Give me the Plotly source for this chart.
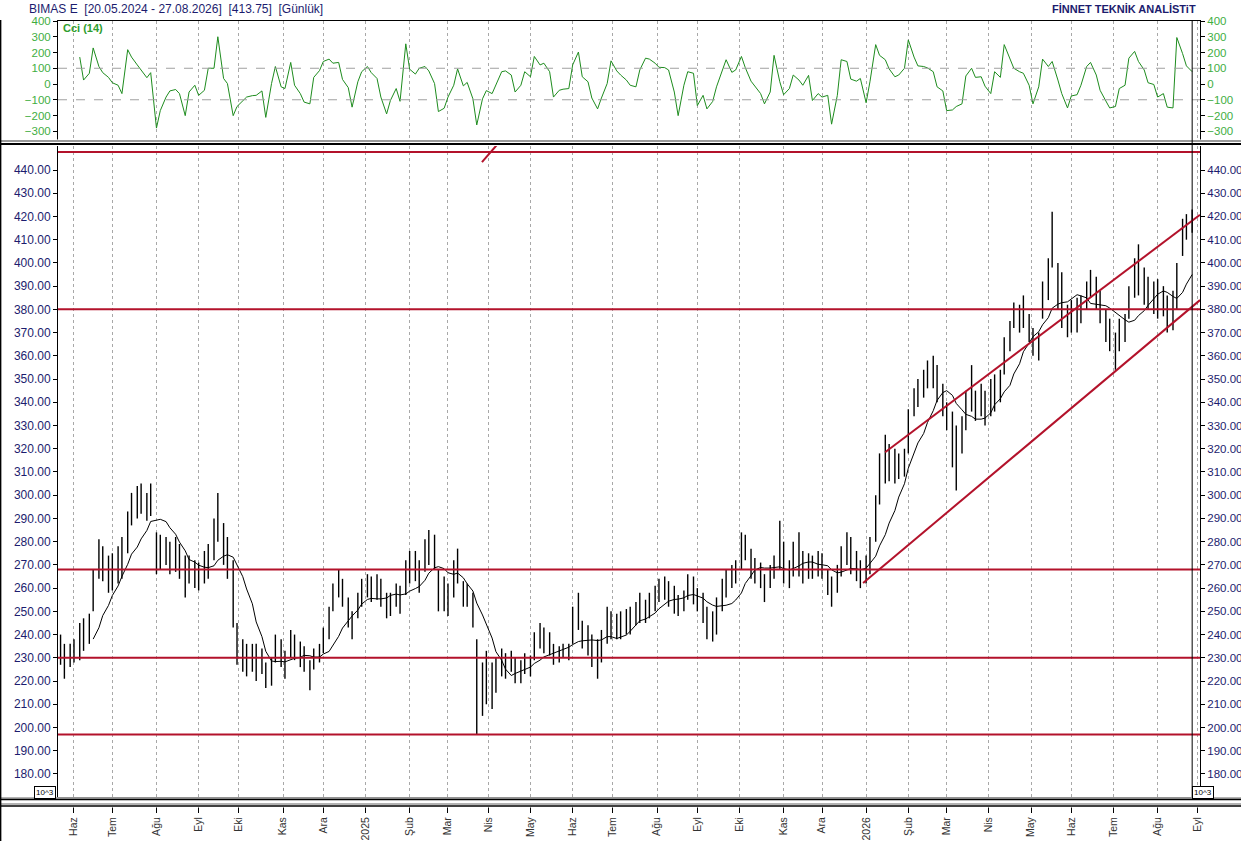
import numpy as np
import pandas as pd
import plotly.graph_objects as go

# half-week bars (Thursday / Monday), 23.05.2024 - 27.08.2026
thu = pd.date_range('2024-05-23', periods=119, freq='7D')
mon = pd.date_range('2024-05-27', periods=118, freq='7D')
DATES = sorted(list(thu) + list(mon))

LOW = [227, 221, 226, 228, 229, 233, 236, 250, 264, 263, 258, 259, 262, 264, 275, 287, 290, 292, 289, 291,
       266, 268, 270, 266, 267, 264, 256, 262, 260, 259, 262, 264, 272, 280, 270, 264, 243, 227, 224, 222,
       224, 220, 223, 217, 218, 228, 226, 221, 230, 229, 226, 224, 216, 225, 228, 232, 238, 250, 256, 252,
       243, 238, 247, 252, 256, 254, 255, 252, 247, 248, 252, 249, 257, 262, 263, 258, 267, 270, 268, 250,
       250, 248, 256, 262, 252, 252, 243, 197, 205, 210, 208, 215, 222, 221, 224, 219, 219, 223, 222, 229,
       234, 232, 231, 227, 228, 230, 229, 236, 242, 234, 231, 226, 221, 228, 236, 238, 238, 238, 240, 240,
       244, 245, 245, 247, 250, 254, 255, 252, 249, 248, 250, 255, 253, 250, 245, 238, 237, 240, 250, 256,
       260, 262, 268, 272, 264, 262, 260, 254, 260, 264, 268, 262, 260, 265, 265, 262, 264, 264, 265, 264,
       257, 252, 258, 265, 270, 266, 263, 260, 262, 266, 280, 296, 305, 306, 305, 307, 308, 318, 334, 338,
       342, 346, 346, 340, 334, 328, 312, 302, 318, 328, 336, 332, 334, 330, 334, 336, 340, 352, 362, 372,
       370, 372, 366, 360, 358, 376, 384, 398, 380, 372, 368, 370, 370, 374, 380, 385, 380, 374, 366, 362,
       354, 362, 366, 376, 385, 386, 382, 380, 378, 376, 377, 370, 371, 380, 403, 410, 413]

HIGH = [240, 236, 236, 238, 245, 247, 249, 268, 281, 278, 274, 275, 278, 282, 293, 301, 304, 305, 301, 305,
        284, 283, 282, 280, 282, 279, 274, 274, 272, 271, 276, 279, 290, 301, 288, 282, 272, 245, 238, 236,
        236, 236, 234, 228, 230, 240, 238, 233, 242, 240, 237, 235, 229, 234, 236, 243, 252, 262, 268, 264,
        256, 250, 258, 264, 266, 265, 266, 264, 258, 258, 262, 261, 272, 276, 276, 272, 281, 285, 283, 268,
        265, 262, 272, 277, 263, 262, 258, 238, 228, 233, 228, 230, 234, 232, 233, 230, 229, 232, 231, 241,
        245, 243, 241, 236, 235, 236, 236, 252, 258, 246, 244, 240, 238, 242, 252, 250, 249, 250, 251, 252,
        254, 258, 255, 258, 261, 264, 265, 263, 261, 257, 259, 266, 265, 260, 258, 252, 250, 256, 264, 268,
        270, 272, 284, 283, 277, 273, 271, 266, 270, 274, 289, 280, 272, 280, 284, 276, 275, 274, 276, 275,
        268, 265, 270, 278, 284, 282, 276, 272, 274, 282, 300, 318, 326, 322, 320, 318, 320, 337, 346, 350,
        354, 358, 360, 356, 348, 340, 336, 330, 334, 345, 356, 345, 348, 345, 350, 352, 354, 368, 375, 383,
        382, 386, 378, 372, 370, 392, 402, 422, 400, 396, 382, 384, 385, 386, 392, 397, 394, 388, 380, 376,
        370, 376, 378, 390, 402, 408, 398, 394, 392, 393, 390, 386, 388, 400, 419, 421, 423]

CCI = [None, None, None, None, 171, 25, 68, 229, 111, 72, 42, 8, -8, -61, 218, 171, 121, 89, 40, 72,
       -280, -169, -83, -44, -35, -61, -201, -51, -8, -72, -40, 100, 100, 300, 35, 3, -201, -143, -104, -83,
       -74, -72, -44, -212, 3, 111, -18, -29, 137, -8, -61, -115, -126, 42, 85, 143, 158, 132, 137, 29,
       -23, -147, 14, 78, 111, 72, 35, -83, -190, -104, -29, -110, 255, 94, 63, 100, 111, 83, 3, -175,
       -154, -83, -8, 96, -12, 10, -94, -260, -94, -42, -61, -8, 78, 83, 57, -51, -8, 78, 46, 175,
       121, 132, 78, -83, -40, -33, -29, 121, 203, 46, 14, -89, -158, -89, 3, 147, 83, 57, 25, -8,
       -18, 89, 164, 158, 132, 106, 104, 89, -51, -201, -8, 78, 68, -137, -72, -158, -111, -18, 78, 154,
       74, 89, 175, 104, 18, -14, -61, -126, -51, 182, 14, -68, -29, 57, 25, -8, 55, -105, -61, -83,
       -72, -255, -72, 154, 143, 31, 18, 35, -119, 14, 250, 182, 154, 96, 46, 57, 100, 280, 171, 115,
       111, 102, 78, -18, -44, -169, -165, -143, -126, 51, 100, 42, 46, -14, -61, 78, 42, 250, 154, 100,
       78, 68, -8, -126, -18, 158, 111, 143, 25, -61, -152, -76, -68, -8, 111, 137, 57, -40, -108, -152,
       -143, -29, -8, 164, 207, 143, 89, 8, -3, -83, -61, -147, -152, 295, 193, 115, 78]

# support / resistance levels and channel
LEVELS = [447.7, 380, 268, 230, 197]
CH_UP_DATES = ['2026-01-14 22:00', '2026-09-02 02:00']
CH_UP = [318.5, 420.7]
CH_LO_DATES = ['2025-12-30 10:00', '2026-09-02 02:00']
CH_LO = [262.2, 384.0]
SEG_DATES = ['2025-03-26 17:00', '2025-04-07 12:00']
SEG = [443.4, 450.8]

TICK_TEXT = ['Haz', 'Tem', 'Ağu', 'Eyl', 'Eki', 'Kas', 'Ara', '2025', 'Şub', 'Mar', 'Nis', 'May', 'Haz', 'Tem',
             'Ağu', 'Eyl', 'Eki', 'Kas', 'Ara', '2026', 'Şub', 'Mar', 'Nis', 'May', 'Haz', 'Tem', 'Ağu', 'Eyl']
TICK_VALS = list(pd.date_range('2024-06-01', '2026-09-01', freq='BMS'))

X_RANGE = ['2024-05-21 16:00', '2026-09-02 02:00']
P_RANGE = [170.08, 450.33]
C_RANGE = [-355.6, 400]

W, H = 1241, 841
FONT = 'Liberation Sans, Arial, sans-serif'
NAVY = '#1c1c6e'
GREEN_TXT = '#3fae3f'
RED = '#b3122b'


def px(v):
    return v / W


def py(v):
    return 1 - v / H


# bars as vertical low-high segments
bx, by = [], []
for d, lo, hi in zip(DATES, LOW, HIGH):
    bx += [d, d, None]
    by += [lo, hi, None]

mid = (np.array(HIGH) + np.array(LOW)) / 2
ma = pd.Series(mid).rolling(8).mean()

lx, ly = [], []
for lv in LEVELS:
    lx += [X_RANGE[0], X_RANGE[1], None]
    ly += [lv, lv, None]

fig = go.Figure()
fig.add_trace(go.Scatter(x=bx, y=by, mode='lines', line=dict(color='black', width=1.4),
                         xaxis='x', yaxis='y', hoverinfo='skip'))
fig.add_trace(go.Scatter(x=DATES, y=ma, mode='lines', line=dict(color='black', width=1),
                         xaxis='x', yaxis='y', hoverinfo='skip'))
for dd, vv in [(CH_UP_DATES, CH_UP), (CH_LO_DATES, CH_LO), (SEG_DATES, SEG)]:
    fig.add_trace(go.Scatter(x=dd, y=vv, mode='lines', line=dict(color=RED, width=2),
                             xaxis='x', yaxis='y', hoverinfo='skip'))
fig.add_trace(go.Scatter(x=lx, y=ly, mode='lines', line=dict(color=RED, width=2),
                         xaxis='x', yaxis='y3', hoverinfo='skip'))

fig.add_trace(go.Scatter(x=[X_RANGE[0], X_RANGE[1], None, X_RANGE[0], X_RANGE[1]],
                         y=[100, 100, None, -100, -100], mode='lines',
                         line=dict(color='#a0a0a0', width=1, dash='dash'),
                         xaxis='x2', yaxis='y4', hoverinfo='skip'))
fig.add_trace(go.Scatter(x=DATES, y=CCI, mode='lines', line=dict(color='#1e8c1e', width=1),
                         xaxis='x2', yaxis='y2', hoverinfo='skip'))

breaks = [dict(bounds=['sat', 'mon'])]
xcommon = dict(type='date', range=X_RANGE, rangebreaks=breaks, tickvals=TICK_VALS,
               showgrid=True, gridcolor='#a8a8a8', griddash='dot', gridwidth=1,
               domain=[px(58), px(1200)], zeroline=False, automargin=False)
ycommon = dict(ticks='outside', ticklen=4, tickcolor='black', showline=True, linecolor='black',
               linewidth=1, showgrid=False, zeroline=False, automargin=False)

fig.update_layout(
    width=W, height=H, margin=dict(l=0, r=0, t=0, b=0, pad=0, autoexpand=False),
    paper_bgcolor='white', plot_bgcolor='white', showlegend=False, hovermode=False,
    font=dict(family=FONT),
    xaxis=dict(**xcommon, anchor='y', ticktext=TICK_TEXT, tickangle=-90, ticks='outside',
               ticklen=15, tickcolor='black', showline=True, linecolor='black',
               tickfont=dict(size=10.5, color='#333333')),
    xaxis2=dict(**xcommon, anchor='y2', matches='x', showticklabels=False, ticks='',
                showline=True, mirror=True, linecolor='black'),
    yaxis=dict(**ycommon, domain=[py(797), py(146)], range=P_RANGE,
               tickvals=list(range(180, 441, 10)), tickformat='.2f',
               tickfont=dict(size=12, color=NAVY), side='left'),
    yaxis3=dict(**ycommon, overlaying='y', anchor='x', side='right', range=P_RANGE,
                tickvals=list(range(180, 441, 10)), tickformat='.2f',
                tickfont=dict(size=11.5, color=NAVY)),
    yaxis2=dict(**ycommon, domain=[py(140), py(21)], range=C_RANGE,
                tickvals=list(range(-300, 401, 100)), tickfont=dict(size=11.5, color=GREEN_TXT),
                side='left'),
    yaxis4=dict(**ycommon, overlaying='y2', anchor='x2', side='right', range=C_RANGE,
                tickvals=list(range(-300, 401, 100)), tickfont=dict(size=11.5, color=GREEN_TXT)),
)

shapes = [
    # splitter between panels
    dict(type='rect', xref='paper', yref='paper', x0=0, x1=1, y0=py(145.5), y1=py(139.5),
         fillcolor='white', line=dict(width=0), layer='above'),
    dict(type='line', xref='paper', yref='paper', x0=0, x1=1, y0=py(141), y1=py(141),
         line=dict(color='#9a9a9a', width=2), layer='above'),
    dict(type='line', xref='paper', yref='paper', x0=0, x1=1, y0=py(144), y1=py(144),
         line=dict(color='black', width=2), layer='above'),
    # bottom splitter
    dict(type='rect', xref='paper', yref='paper', x0=0, x1=1, y0=py(807.5), y1=py(797.5),
         fillcolor='white', line=dict(width=0), layer='above'),
    dict(type='line', xref='paper', yref='paper', x0=0, x1=1, y0=py(798), y1=py(798),
         line=dict(color='#9a9a9a', width=1.5), layer='above'),
    dict(type='line', xref='paper', yref='paper', x0=0, x1=1, y0=py(799.5), y1=py(799.5),
         line=dict(color='black', width=1.5), layer='above'),
    dict(type='line', xref='paper', yref='paper', x0=0, x1=1, y0=py(804), y1=py(804),
         line=dict(color='#9a9a9a', width=1.5), layer='above'),
    dict(type='line', xref='paper', yref='paper', x0=0, x1=1, y0=py(806), y1=py(806),
         line=dict(color='black', width=1.5), layer='above'),
    # left border
    dict(type='line', xref='paper', yref='paper', x0=0.0005, x1=0.0005, y0=0, y1=py(20),
         line=dict(color='black', width=1.5), layer='above'),
    # last bar marker
    dict(type='line', xref='x', yref='paper', x0=DATES[-1], x1=DATES[-1], y0=py(797), y1=py(21),
         line=dict(color='black', width=1), layer='above'),
]
fig.update_layout(shapes=shapes)

fig.add_annotation(x=px(27), y=py(9), xref='paper', yref='paper', xanchor='left', yanchor='middle',
                   showarrow=False, text='BIMAS E  [20.05.2024 - 27.08.2026]  [413.75]  [Günlük]',
                   font=dict(size=12, color=NAVY, family=FONT))
fig.add_annotation(x=px(1198), y=py(9), xref='paper', yref='paper', xanchor='right', yanchor='middle',
                   showarrow=False, text='<b>FİNNET TEKNİK ANALİSTiT</b>',
                   font=dict(size=11, color=NAVY, family=FONT))
fig.add_annotation(x=px(61), y=py(28), xref='paper', yref='paper', xanchor='left', yanchor='middle',
                   showarrow=False, text='<b>Cci (14)</b>', font=dict(size=11, color='#2e9e2e', family=FONT))
for bxp in (45, 1203):
    fig.add_annotation(x=px(bxp), y=py(792), xref='paper', yref='paper', xanchor='center',
                       yanchor='middle', showarrow=False, text='10^3', bgcolor='white',
                       bordercolor='black', borderwidth=1, borderpad=1,
                       font=dict(size=8, color='black', family=FONT))

# page body has a default margin; remove it so the figure sits at the window's corner
fig.write_html("out.html", config={'displayModeBar': False},
               post_script="document.body.style.margin = '0px';")
